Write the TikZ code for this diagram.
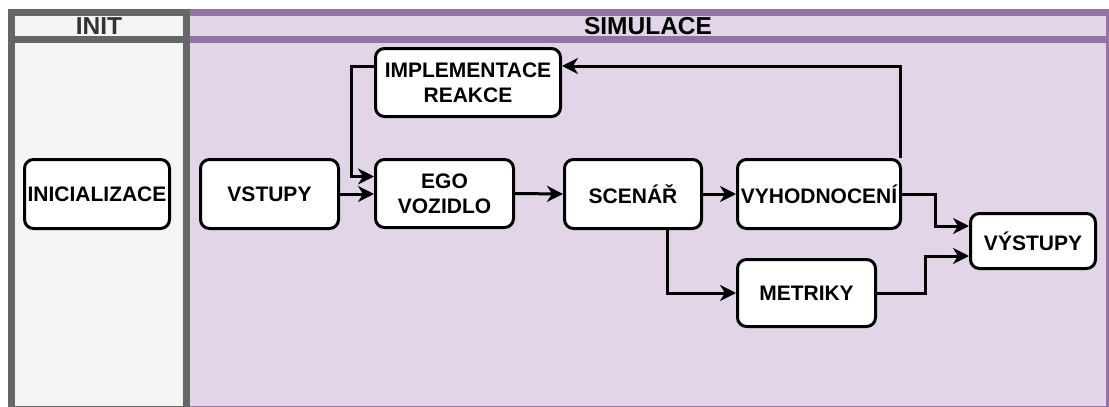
\documentclass[tikz,border=0pt]{standalone}
\usepackage{fontspec}
\setmainfont{Liberation Sans}
\usetikzlibrary{arrows.meta}
\definecolor{initLine}{HTML}{666666}
\definecolor{initFill}{HTML}{F5F5F5}
\definecolor{initText}{HTML}{333333}
\definecolor{simLine}{HTML}{9673A6}
\definecolor{simFill}{HTML}{E1D5E7}
\begin{document}
\begin{tikzpicture}[x=1pt,y=-1pt,
  lane/.style={line width=7pt},
  lanetitle/.style={font=\fontsize{24.5}{29}\selectfont\bfseries, inner sep=0pt},
  box/.style={draw=black, line width=3pt, fill=white, rounded corners=9pt,
    align=center, inner sep=0pt, font=\fontsize{21}{25}\selectfont\bfseries},
  flow/.style={line width=3pt, -{Stealth[length=16pt,width=16pt,inset=5pt]}}]
\useasboundingbox (0,0) rectangle (1109,407);

% swimlanes
\begin{scope}
  \clip (0,0) rectangle (1109,407);
  \draw[lane, draw=simLine, fill=simFill] (186.5,12.5) rectangle (1109,409);
  \draw[lane, draw=simLine] (186.5,39.5) -- (1109,39.5);
  \draw[lane, draw=initLine, fill=initFill] (11.5,12.5) rectangle (186.5,409);
  \draw[lane, draw=initLine] (11.5,39.5) -- (186.5,39.5);
\end{scope}
\node[lanetitle, text=initText] (tinit) at (99,26) {INIT};
\node[lanetitle] (tsim) at (648,26) {SIMULACE};

% process boxes
\node[box, minimum width=145pt, minimum height=69pt] (init) at (97,194) {INICIALIZACE};
\node[box, minimum width=138pt, minimum height=69pt] (vstupy) at (269.5,194) {VSTUPY};
\node[box, minimum width=138pt, minimum height=68pt] (ego) at (444.5,193.5) {EGO\\VOZIDLO};
\node[box, minimum width=185pt, minimum height=68pt] (impl) at (468,82.5) {IMPLEMENTACE\\REAKCE};
\node[box, minimum width=137pt, minimum height=69pt] (scen) at (633,194) {SCENÁŘ};
\node[box, minimum width=163pt, minimum height=69pt] (vyhod) at (819,194) {VYHODNOCENÍ};
\node[box, minimum width=138pt, minimum height=67pt] (metr) at (806.5,293) {METRIKY};
\node[box, minimum width=125pt, minimum height=55pt] (vyst) at (1033,241) {VÝSTUPY};

% connectors
\draw[flow] (vstupy.east) -- (vstupy.east -| ego.west);
\draw[flow] ([yshift=16.5pt]impl.west) -- ++(-23,0) |- ([yshift=17pt]ego.west);
\draw[flow] (ego.east) -- (scen.west);
\draw[flow] (scen.east) -- (vyhod.west);
\draw[flow] ([xshift=-2pt]vyhod.north east) |- ([yshift=16.5pt]impl.east);
\draw[flow] ([xshift=34pt]scen.south) |- (metr.west);
\draw[flow] (vyhod.east) -- ++(33.5,0) |- ([yshift=15pt]vyst.west);
\draw[flow] (metr.east) -- ++(48,0) |- ([yshift=-15pt]vyst.west);
\end{tikzpicture}
\end{document}
